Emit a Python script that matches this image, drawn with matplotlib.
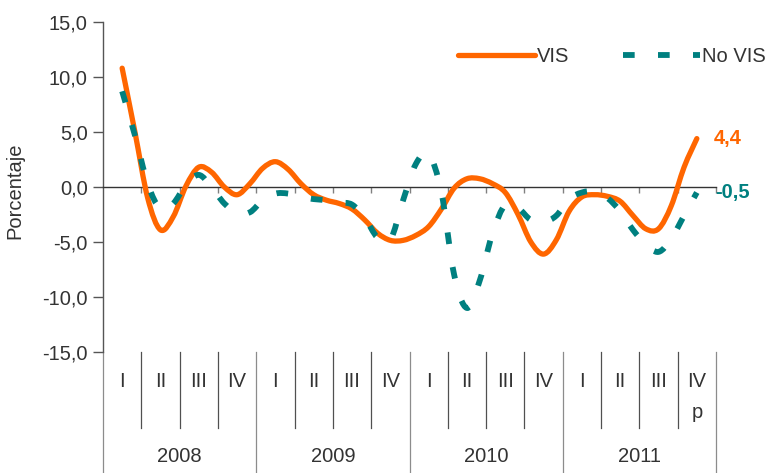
import matplotlib
matplotlib.use('Agg')
import matplotlib.pyplot as plt
import numpy as np
from matplotlib.path import Path
from matplotlib.patches import PathPatch
from matplotlib.lines import Line2D
import matplotlib.transforms as mtransforms

# ---------------- data ----------------
years = ['2008', '2009', '2010', '2011']
quarters = ['I', 'II', 'III', 'IV']
last_quarter_note = 'p'
points_per_quarter = 3

vis = [10.8, 5.0, -1.0, -3.9, -2.7, 0.1, 1.8, 1.35, 0.0, -0.7,
       0.3, 1.7, 2.3, 1.6, 0.3, -0.7, -1.2, -1.5, -2.0, -3.0,
       -4.2, -4.85, -4.85, -4.4, -3.6, -2.0, -0.1, 0.75, 0.75, 0.3,
       -0.5, -2.5, -5.0, -6.1, -4.8, -2.2, -0.9, -0.7, -0.85, -1.3,
       -2.6, -3.8, -3.8, -1.7, 1.8, 4.4]
no_vis = [8.7, 4.7, 0.3, -2.0, -1.5, 0.2, 1.1, 0.0, -1.5, -2.3,
          -2.3, -1.2, -0.6, -0.6, -0.9, -1.1, -1.2, -1.4, -1.6, -2.8,
          -4.6, -4.8, -1.2, 2.1, 3.0, -0.5, -8.0, -11.0, -8.5, -4.2,
          -1.6, -1.9, -3.0, -3.2, -2.6, -1.1, -0.5, -0.4, -1.0, -2.2,
          -3.9, -5.2, -5.9, -4.7, -2.6, -0.5]
series_names = ['VIS', 'No VIS']
yticks = [-15, -10, -5, 0, 5, 10, 15]

ORANGE = '#FF6600'
TEAL = '#008080'
TXT = '#333333'
FS = 14.5

plt.rcParams['font.family'] = ['Liberation Sans', 'DejaVu Sans']


def smooth_path(xs, ys):
    pts = np.column_stack([xs, ys]).astype(float)
    n = len(pts)
    verts = [pts[0]]
    codes = [Path.MOVETO]
    for i in range(n - 1):
        p0 = pts[i - 1] if i > 0 else pts[i]
        p1 = pts[i]
        p2 = pts[i + 1]
        p3 = pts[i + 2] if i + 2 < n else pts[i + 1]
        c1 = p1 + (p2 - p0) / 6.0
        c2 = p2 - (p3 - p1) / 6.0
        verts += [c1, c2, p2]
        codes += [Path.CURVE4] * 3
    return Path(verts, codes)


fig = plt.figure(figsize=(7.73, 4.73), dpi=100)
ax = fig.add_axes([103 / 773, 1 - 352 / 473, (716 - 103) / 773, 330 / 473])

n_q = len(years) * len(quarters)
ax.set_xlim(-0.5, n_q - 0.5)
ax.set_ylim(-15, 15)

x = np.arange(len(vis)) / points_per_quarter

p_vis = PathPatch(smooth_path(x, vis), fill=False, edgecolor=ORANGE, lw=3.8,
                  capstyle='round', joinstyle='round', zorder=3)
p_novis = PathPatch(smooth_path(x, no_vis), fill=False, edgecolor=TEAL, lw=4.2,
                    linestyle=(0, (2.0, 4.0)), capstyle='butt', joinstyle='round',
                    zorder=4)
ax.add_patch(p_vis)
ax.add_patch(p_novis)

# axes styling
for s in ['top', 'right']:
    ax.spines[s].set_visible(False)
ax.spines['bottom'].set_position(('data', 0))
ax.spines['bottom'].set_color('#333333')
ax.spines['bottom'].set_linewidth(1.0)
ax.spines['left'].set_color('#555555')
ax.spines['left'].set_linewidth(1.0)

ax.set_xticks(np.arange(0.5, n_q, 1.0))
ax.tick_params(axis='x', length=4, width=1.0, direction='out', color='#808080',
               labelbottom=False)
ax.set_yticks(yticks)
ax.set_yticklabels([f'{v:.1f}'.replace('.', ',') for v in yticks])
ax.tick_params(axis='y', length=7, width=1.0, color='#555555', labelsize=FS,
               labelcolor=TXT, pad=4)

ax.set_ylabel('Porcentaje', fontsize=FS, color=TXT)
ax.yaxis.set_label_coords(-0.128, 0.49)

# category axis below the plot
blend = mtransforms.blended_transform_factory(ax.transData, ax.transAxes)
bottom = -(473 - 352) / 330
for yi, yr in enumerate(years):
    for qi, q in enumerate(quarters):
        idx = yi * len(quarters) + qi
        ax.text(idx, -0.088, q, transform=blend, ha='center', va='center',
                fontsize=FS, color=TXT, clip_on=False)
    ax.text(yi * len(quarters) + 1.5, -0.318, yr, transform=blend,
            ha='center', va='center', fontsize=FS, color=TXT, clip_on=False)
ax.text(n_q - 1, -0.182, last_quarter_note, transform=blend, ha='center',
        va='center', fontsize=FS, color=TXT, clip_on=False)

for b in np.arange(0.5, n_q, 1.0):
    if int(b + 0.5) % len(quarters) == 0:
        ax.add_line(Line2D([b, b], [0, bottom], transform=blend, color='#8c8c8c',
                           lw=0.9, clip_on=False))
    else:
        ax.add_line(Line2D([b, b], [0, -0.23], transform=blend, color='#505050',
                           lw=0.9, clip_on=False))
ax.add_line(Line2D([-0.5, -0.5], [0, bottom], transform=blend, color='#8c8c8c',
                   lw=0.9, clip_on=False))

# end labels
ax.text(n_q - 0.57, vis[-1], f'{vis[-1]:.1f}'.replace('.', ','), ha='left',
        va='center', fontsize=FS, fontweight='bold', color=ORANGE, clip_on=False)
ax.text(n_q - 0.52, no_vis[-1], f'{no_vis[-1]:.1f}'.replace('.', ','), ha='left',
        va='center', fontsize=FS, fontweight='bold', color=TEAL, clip_on=False)

# legend
h1 = Line2D([], [], color=ORANGE, lw=3.8, solid_capstyle='round')
h2 = Line2D([], [], color=TEAL, lw=4.2, linestyle=(0, (2.0, 4.0)),
            dash_capstyle='butt')
leg = fig.legend([h1, h2], series_names, ncol=2, loc='center left',
                 bbox_to_anchor=(458 / 773, 1 - 57 / 473), frameon=False,
                 fontsize=FS, handlelength=3.8, handletextpad=0.1,
                 columnspacing=2.7, borderpad=0, borderaxespad=0)
for t in leg.get_texts():
    t.set_color(TXT)

fig.savefig('out.png', dpi=100)
